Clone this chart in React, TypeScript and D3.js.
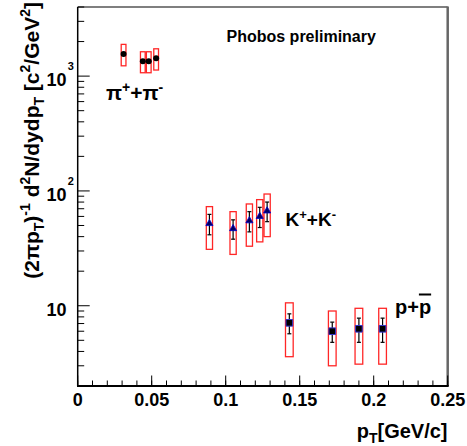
import * as d3 from 'd3';
import React from 'react';

// pions
const piPt = [0.031, 0.044, 0.048, 0.053];
const piYield = [1560, 1350, 1350, 1430];
const piStat = [40, 40, 40, 40];
const piSys = [330, 280, 280, 300];
const piBoxHalf = 0.0016;

// kaons
const kPt = [0.089, 0.105, 0.116, 0.123, 0.128];
const kYield = [52, 47, 55, 60, 67];
const kStat = [10.5, 9, 11, 12, 13];
const kSys = [21, 19, 22, 24, 27];
const kBoxHalf = 0.0021;

// protons
const pPt = [0.143, 0.172, 0.19, 0.206];
const pYield = [7.1, 6.0, 6.3, 6.3];
const pStat = [1.4, 1.2, 1.5, 1.5];
const pSys = [3.5, 3.0, 3.2, 3.2];
const pBoxHalf = 0.0026;

const xTickLabels = ['0', '0.05', '0.1', '0.15', '0.2', '0.25'];

const W = 467;
const H = 446;
const left = 77.7;
const right = 447.7;
const top = 7;
const bottom = 386;
const font = '"Liberation Sans", Arial, Helvetica, sans-serif';

type Part = [string, 'n' | 'sup' | 'sub'];

function richText(parts: Part[], size: number, small: number, up: number, down: number) {
  let shift = 0;
  return parts.map(([t, kind], i) => {
    const target = kind === 'sup' ? -up : kind === 'sub' ? down : 0;
    const dy = target - shift;
    shift = target;
    return (
      <tspan key={i} dy={dy} fontSize={kind === 'n' ? size : small}>
        {t}
      </tspan>
    );
  });
}

export default function App() {
  const x = d3.scaleLinear().domain([0, 0.25]).range([left, right]);
  const y = d3.scaleLog().domain([2, 4000]).range([bottom, top]);

  const xMinor = d3.range(0, 0.2501, 0.01);
  const xMajor = d3.range(0, 0.2501, 0.05);
  const yAll = y.ticks();
  const isMajor = (v: number) => Math.abs(Math.log10(v) - Math.round(Math.log10(v))) < 1e-9;

  const tri = d3.symbol().type(d3.symbolTriangle).size(22)();
  const sq = d3.symbol().type(d3.symbolSquare).size(44)();

  const series = [
    { pt: piPt, val: piYield, stat: piStat, sys: piSys, half: piBoxHalf, kind: 'pi' },
    { pt: kPt, val: kYield, stat: kStat, sys: kSys, half: kBoxHalf, kind: 'k' },
    { pt: pPt, val: pYield, stat: pStat, sys: pSys, half: pBoxHalf, kind: 'p' },
  ];

  const yTitle: Part[] = [
    ['(2πp', 'n'], ['T', 'sub'], [')', 'n'], ['-1', 'sup'], [' d', 'n'], ['2', 'sup'],
    ['N/dydp', 'n'], ['T', 'sub'], [' [c', 'n'], ['2', 'sup'], ['/GeV', 'n'], ['2', 'sup'], [']', 'n'],
  ];

  return (
    <svg width={W} height={H} style={{ position: 'absolute', left: 0, top: 0, background: '#fff' }}
      fontFamily={font} fontWeight="bold">
      {/* frame */}
      <line x1={left} x2={right} y1={top} y2={top} stroke="#000" strokeWidth={1.2} />
      <line x1={right} x2={right} y1={top - 0.5} y2={bottom} stroke="#666" strokeWidth={2.5} />
      <line x1={left} x2={left} y1={top} y2={bottom} stroke="#000" strokeWidth={1.5} />
      <line x1={left - 0.7} x2={right + 1} y1={bottom} y2={bottom} stroke="#000" strokeWidth={2.2} />

      {/* x ticks */}
      {xMinor.map((t, i) => (
        <line key={'xm' + i} x1={x(t)} x2={x(t)} y1={bottom} y2={bottom - 5.5} stroke="#000" strokeWidth={1} />
      ))}
      {xMajor.map((t, i) => (
        <line key={'xM' + i} x1={x(t)} x2={x(t)} y1={bottom} y2={bottom - 10.5} stroke="#000" strokeWidth={1} />
      ))}
      {xMajor.map((t, i) => (
        <text key={'xl' + i} x={x(t)} y={bottom + 19.5} fontSize={18} textAnchor="middle">
          {xTickLabels[i]}
        </text>
      ))}

      {/* y ticks */}
      {yAll.map((t, i) => (
        <line key={'y' + i} x1={left} x2={left + (isMajor(t) ? 12 : 6.5)} y1={y(t)} y2={y(t)}
          stroke="#000" strokeWidth={1} />
      ))}
      {yAll.filter(isMajor).map((t, i) => {
        const e = Math.round(Math.log10(t));
        return (
          <g key={'yl' + i}>
            <text x={66.5} y={y(t) + 9.8} fontSize={18} textAnchor="end">10</text>
            {e > 1 && (
              <text x={67.8} y={y(t) - 6} fontSize={11}>{e}</text>
            )}
          </g>
        );
      })}

      {/* systematic boxes */}
      {series.map((s) =>
        s.pt.map((p, i) => (
          <rect key={s.kind + 'b' + i} x={x(p - s.half)} width={x(p + s.half) - x(p - s.half)}
            y={y(s.val[i] + s.sys[i])} height={y(s.val[i] - s.sys[i]) - y(s.val[i] + s.sys[i])}
            fill="none" stroke="#ff0000" strokeOpacity={0.85} strokeWidth={1.3} />
        ))
      )}

      {/* stat error bars */}
      {series.map((s) =>
        s.pt.map((p, i) => {
          const cx = x(p);
          const y1 = y(s.val[i] + s.stat[i]);
          const y2 = y(s.val[i] - s.stat[i]);
          return (
            <g key={s.kind + 'e' + i} stroke="#000" strokeWidth={1.2}>
              <line x1={cx} x2={cx} y1={y1} y2={y2} />
              <line x1={cx - 2} x2={cx + 2} y1={y1} y2={y1} />
              <line x1={cx - 2} x2={cx + 2} y1={y2} y2={y2} />
            </g>
          );
        })
      )}

      {/* markers */}
      {piPt.map((p, i) => (
        <circle key={'pim' + i} cx={x(p)} cy={y(piYield[i])} r={3} fill="#000" />
      ))}
      {kPt.map((p, i) => (
        <path key={'km' + i} d={tri!} transform={`translate(${x(p)},${y(kYield[i])})`}
          fill="#000060" stroke="#0000cc" strokeWidth={0.8} />
      ))}
      {pPt.map((p, i) => (
        <path key={'pm' + i} d={sq!} transform={`translate(${x(p)},${y(pYield[i])})`}
          fill="#000" stroke="#3333cc" strokeWidth={1} />
      ))}

      {/* annotations */}
      <text x={226.5} y={41.7} fontSize={16}>Phobos preliminary</text>
      <text x={106} y={100} fontSize={21}>
        {richText([['π', 'n'], ['+', 'sup'], ['+π', 'n'], ['-', 'sup']], 21, 14, 8, 0)}
      </text>
      <text x={285.5} y={226} fontSize={19}>
        {richText([['K', 'n'], ['+', 'sup'], ['+K', 'n'], ['-', 'sup']], 19, 13, 7, 0)}
      </text>
      <text x={395} y={313.5} fontSize={20}>
        p+<tspan style={{ textDecoration: 'overline' }}>p</tspan>
      </text>

      {/* axis titles */}
      <text x={447.5} y={438} fontSize={20} textAnchor="end">
        {richText([['p', 'n'], ['T', 'sub'], ['[GeV/c]', 'n']], 20, 14, 8, 5)}
      </text>
      <text transform="translate(38.5,2) rotate(-90)" fontSize={21} textAnchor="end">
        {richText(yTitle, 21, 14, 8.5, 5)}
      </text>
    </svg>
  );
}
